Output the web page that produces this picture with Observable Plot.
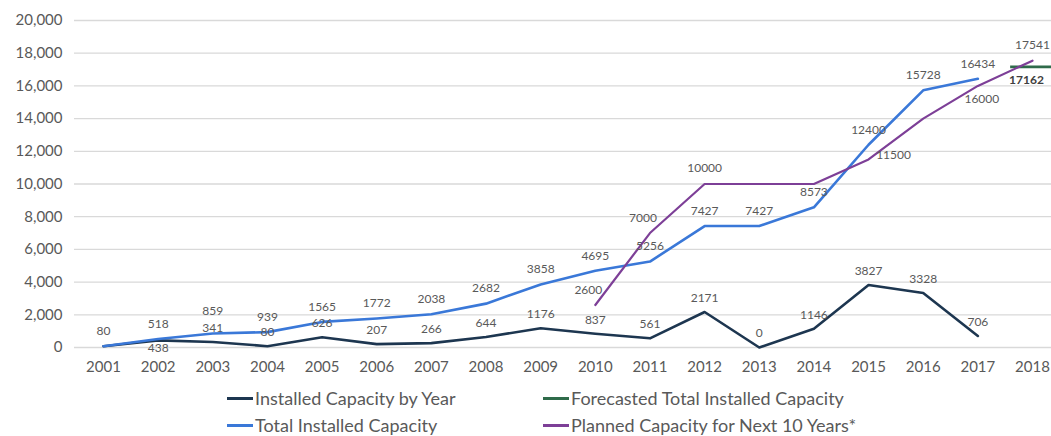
<!DOCTYPE html>
<html>
<head>
<meta charset="utf-8">
<script src="https://cdn.jsdelivr.net/npm/d3@7"></script>
<script src="https://cdn.jsdelivr.net/npm/@observablehq/plot@0.6"></script>
<style>
  html, body { margin: 0; padding: 0; background: #fff; }
  #wrap { position: relative; width: 1051px; height: 436px; font-family: Lato, "Open Sans", sans-serif; }
  .leg { position: absolute; font-size: 18px; color: #595959; white-space: nowrap; display: flex; align-items: center; }
  .leg span.sw { display: inline-block; width: 26px; height: 3px; margin-right: 2px; }
</style>
</head>
<body>
<div id="wrap"></div>
<script>
const years = [2001,2002,2003,2004,2005,2006,2007,2008,2009,2010,2011,2012,2013,2014,2015,2016,2017];
const xTicks = [2001,2002,2003,2004,2005,2006,2007,2008,2009,2010,2011,2012,2013,2014,2015,2016,2017,2018];
const installedByYear = [80,438,341,80,626,207,266,644,1176,837,561,2171,0,1146,3827,3328,706];
const totalInstalled = [80,518,859,939,1565,1772,2038,2682,3858,4695,5256,7427,7427,8573,12400,15728,16434];
const plannedYears = [2010,2011,2012,2013,2014,2015,2016,2017,2018];
const planned = [2600,7000,10000,10000,10000,11500,14000,16000,17541];
const plannedLabelled = [2010,2011,2012,2015,2017,2018];
const forecastYear = [2018];
const forecast = [17162];
const yTicks = [0,2000,4000,6000,8000,10000,12000,14000,16000,18000,20000];
const seriesNames = ["Installed Capacity by Year","Forecasted Total Installed Capacity","Total Installed Capacity","Planned Capacity for Next 10 Years*"];
const colors = {dark:"#1d3650", blue:"#3a78d8", green:"#2f6b4a", purple:"#7d3f97"};

const byYear = years.map((y,i) => ({year:y, v:installedByYear[i]}));
const total = years.map((y,i) => ({year:y, v:totalInstalled[i]}));
const plan = plannedYears.map((y,i) => ({year:y, v:planned[i]}));
const fc = forecastYear.map((y,i) => ({year:y, v:forecast[i], x1:y-0.4, x2:y+0.6}));

const lblFont = {fontSize:12, fill:"#595959", fontFamily:"Lato, sans-serif", x:"year", y:"v", text: d => String(d.v)};
const planLab = plan.filter(d => plannedLabelled.includes(d.year));

const chart = Plot.plot({
  width: 1051,
  height: 380,
  marginLeft: 74,
  marginRight: 0,
  marginTop: 20,
  marginBottom: 33,
  style: {fontFamily: "Lato, sans-serif", fontSize: "15px", color: "#595959", background: "#fff", overflow: "hidden"},
  x: {type:"linear", domain:[2001,2018], range:[103,1032], ticks: xTicks, tickFormat: d => String(d), tickSize:0, tickPadding:14, label:null},
  y: {domain:[0,20000], range:[347,20], ticks: yTicks, tickFormat: d3.format(","), tickSize:0, tickPadding:12, label:null},
  marks: [
    Plot.gridY(yTicks, {stroke:"#d9d9d9", strokeOpacity:1, strokeWidth:1.3}),
    Plot.line(byYear, {x:"year", y:"v", stroke:colors.dark, strokeWidth:2.6}),
    Plot.line(total, {x:"year", y:"v", stroke:colors.blue, strokeWidth:2.6}),
    Plot.ruleY(fc, {x1:"x1", x2:"x2", y:"v", stroke:colors.green, strokeWidth:2.6}),
    Plot.line(plan, {x:"year", y:"v", stroke:colors.purple, strokeWidth:2.2}),
    Plot.text(byYear.filter(d => d.year !== 2002 && d.year !== 2001), {...lblFont, dy:-14}),
    Plot.text(byYear.filter(d => d.year === 2002), {...lblFont, dy:8}),
    Plot.text(total.filter(d => d.year !== 2003), {...lblFont, dy:-15}),
    Plot.text(total.filter(d => d.year === 2003), {...lblFont, dy:-22}),
    Plot.text(planLab.filter(d => d.year === 2010 || d.year === 2011), {...lblFont, dx:-7, dy:-15}),
    Plot.text(planLab.filter(d => d.year === 2012 || d.year === 2018), {...lblFont, dy:-16}),
    Plot.text(planLab.filter(d => d.year === 2015), {...lblFont, dx:25, dy:-4}),
    Plot.text(planLab.filter(d => d.year === 2017), {...lblFont, dx:4, dy:13}),
    Plot.text(fc, {...lblFont, dx:-6, dy:13, fill:"#404040", fontWeight:"bold"})
  ]
});

const wrap = document.getElementById("wrap");
wrap.appendChild(chart);
const legendItems = [
  {name: seriesNames[0], color: colors.dark, left: 227, top: 398},
  {name: seriesNames[1], color: colors.green, left: 543, top: 398},
  {name: seriesNames[2], color: colors.blue, left: 227, top: 425},
  {name: seriesNames[3], color: colors.purple, left: 543, top: 425}
];
for (const it of legendItems) {
  const d = document.createElement("div");
  d.className = "leg";
  d.style.left = it.left + "px";
  d.style.top = (it.top - 11) + "px";
  d.style.height = "22px";
  const sw = document.createElement("span");
  sw.className = "sw";
  sw.style.background = it.color;
  d.appendChild(sw);
  d.appendChild(document.createTextNode(it.name));
  wrap.appendChild(d);
}
</script>
</body>
</html>
